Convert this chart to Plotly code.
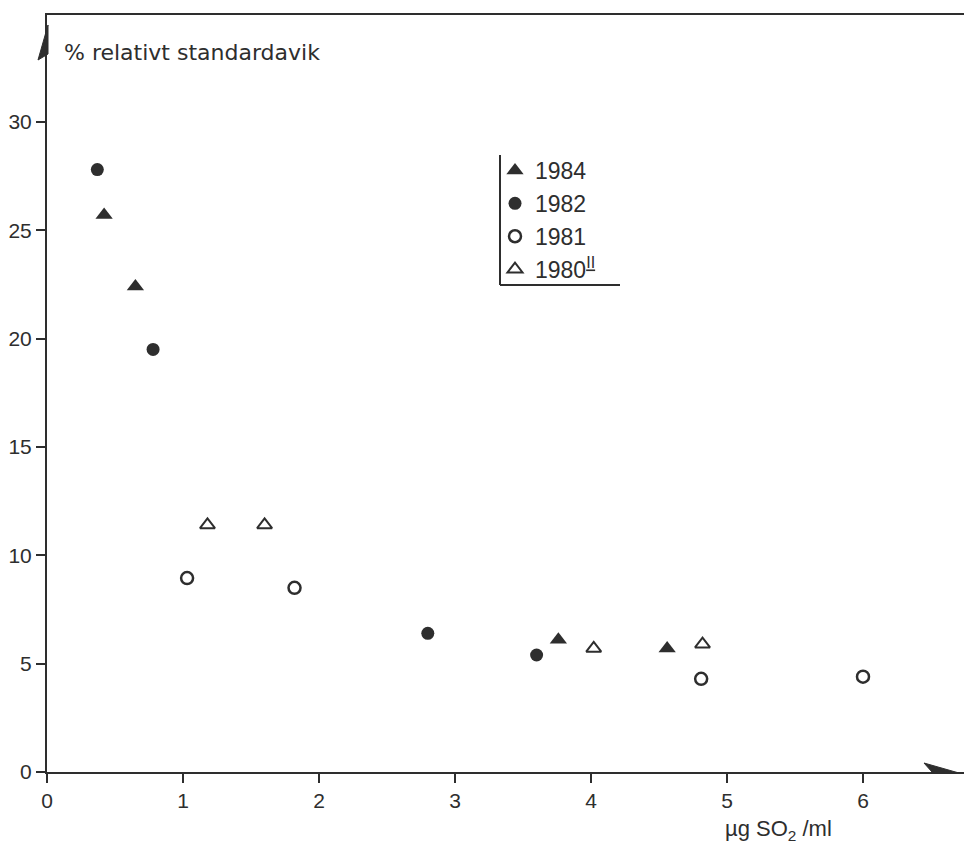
import plotly.graph_objects as go

# ---- data ----
x_1984 = [0.42, 0.65, 3.76, 4.56]
y_1984 = [25.7, 22.4, 6.1, 5.7]

x_1982 = [0.37, 0.78, 2.80, 3.60]
y_1982 = [27.8, 19.5, 6.4, 5.4]

x_1981 = [1.03, 1.82, 4.81, 6.00]
y_1981 = [8.95, 8.5, 4.3, 4.4]

x_1980 = [1.18, 1.60, 4.02, 4.82]
y_1980 = [11.4, 11.4, 5.7, 5.9]

x_ticks = [0, 1, 2, 3, 4, 5, 6]
y_ticks = [0, 5, 10, 15, 20, 25, 30]

INK = "#2e2e2e"
FONT = "Liberation Sans"
FONT_WIDE = "DejaVu Sans"

W, H = 964, 845
L, R, T, B = 47, 0, 15, 73
PW, PH = W - L - R, H - T - B
PX_PER_X = 136.0
PX_PER_Y = 21.67


def px(xp):
    return (xp - L) / PW


def py(yp):
    return (H - B - yp) / PH


fig = go.Figure()
fig.add_trace(go.Scatter(x=x_1984, y=y_1984, mode="markers", name="1984",
                         marker=dict(symbol="triangle-up", size=15, color=INK)))
fig.add_trace(go.Scatter(x=x_1982, y=y_1982, mode="markers", name="1982",
                         marker=dict(symbol="circle", size=13, color=INK)))
fig.add_trace(go.Scatter(x=x_1981, y=y_1981, mode="markers", name="1981",
                         marker=dict(symbol="circle-open", size=12, color=INK,
                                     line=dict(width=2.5, color=INK))))
fig.add_trace(go.Scatter(x=x_1980, y=y_1980, mode="markers", name="1980<sup><u>II</u></sup>",
                         marker=dict(symbol="triangle-up-open", size=13, color=INK,
                                     line=dict(width=2, color=INK))))

shapes = [
    # legend frame (left and bottom)
    dict(type="line", xref="paper", yref="paper", x0=px(500), x1=px(500),
         y0=py(155), y1=py(285), line=dict(color=INK, width=2)),
    dict(type="line", xref="paper", yref="paper", x0=px(500), x1=px(620),
         y0=py(285), y1=py(285), line=dict(color=INK, width=2)),
    # y axis arrowhead
    dict(type="path", xref="paper", yref="paper",
         path=f"M {px(48)},{py(25)} L {px(38)},{py(60)} L {px(48)},{py(54)} Z",
         fillcolor=INK, line=dict(color=INK, width=1)),
    # x axis arrowhead
    dict(type="path", xref="paper", yref="paper",
         path=f"M {px(959)},{py(773)} L {px(924)},{py(763)} L {px(932)},{py(772)} Z",
         fillcolor=INK, line=dict(color=INK, width=1)),
]

annotations = [
    dict(text="% relativt standardavik", xref="paper", yref="paper",
         x=px(62), y=py(52), xanchor="left", yanchor="middle", showarrow=False,
         font=dict(family=FONT_WIDE, size=22, color=INK)),
    dict(text="µg SO<sub>2</sub> /ml", xref="paper", yref="paper",
         x=px(723), y=py(830), xanchor="left", yanchor="middle", showarrow=False,
         font=dict(family=FONT, size=22, color=INK)),
]

fig.update_layout(
    width=W, height=H,
    margin=dict(l=L, r=R, t=T, b=B, pad=0),
    paper_bgcolor="white", plot_bgcolor="white",
    showlegend=True,
    legend=dict(x=px(495), y=py(149), xanchor="left", yanchor="top",
                bgcolor="rgba(0,0,0,0)", borderwidth=0,
                font=dict(family=FONT, size=23, color=INK),
                itemwidth=30, tracegroupgap=0),
    shapes=shapes,
    annotations=annotations,
    xaxis=dict(range=[0, PW / PX_PER_X], tickvals=x_ticks, ticktext=[str(v) for v in x_ticks],
               showgrid=False, zeroline=False, showline=True, mirror=True,
               linecolor=INK, linewidth=2, ticks="outside", ticklen=9, tickwidth=2,
               tickcolor=INK, tickfont=dict(family=FONT, size=21, color=INK)),
    yaxis=dict(range=[0, PH / PX_PER_Y], tickvals=y_ticks, ticktext=[str(v) for v in y_ticks],
               showgrid=False, zeroline=False, showline=True,
               linecolor=INK, linewidth=2, ticks="outside", ticklen=9, tickwidth=2,
               tickcolor=INK, tickfont=dict(family=FONT, size=21, color=INK)),
)

fig.write_html("out.html")
